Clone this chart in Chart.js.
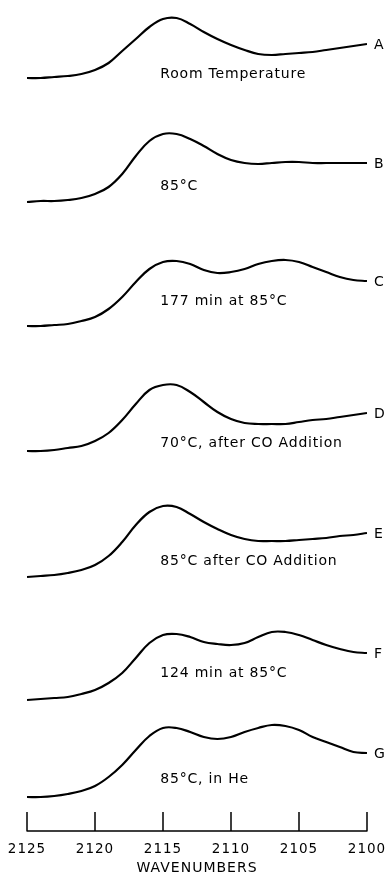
<!DOCTYPE html>
<html>
<head>
<meta charset="utf-8">
<title>CO bands</title>
<script src="https://cdn.jsdelivr.net/npm/chart.js@4/dist/chart.umd.min.js"></script>
<style>
  html, body { margin: 0; padding: 0; background: #fff; }
  #wrap { width: 388px; height: 877px; }
</style>
</head>
<body>
<div id="wrap"><canvas id="ir-chart" width="388" height="877"></canvas></div>
<script>
let wavenumbers = [2125, 2124, 2123, 2122, 2121, 2120, 2119, 2118, 2117, 2116, 2115, 2114, 2113,
    2112, 2111, 2110, 2109, 2108, 2107, 2106, 2105, 2104, 2103, 2102, 2101, 2100];

// absorbance above each trace's own baseline (arbitrary units)
let specA = [0, 0, 1, 2, 4, 8, 15, 27, 39, 51, 59, 60, 54, 46, 39, 33, 28, 24, 23, 24, 25, 26, 28, 30, 32, 34];
let specB = [0, 1, 1, 2, 4, 8, 15, 28, 46, 61, 68, 68, 63, 56, 48, 42, 39, 38, 39, 40, 40, 39, 39, 39, 39, 39];
let specC = [0, 0, 1, 2, 5, 9, 17, 29, 44, 57, 64, 65, 62, 56, 53, 54, 57, 62, 65, 66, 64, 59, 54, 49, 46, 45];
let specD = [0, 0, 1, 3, 5, 10, 18, 31, 47, 61, 66, 66, 59, 49, 39, 32, 28, 27, 27, 27, 29, 31, 32, 34, 36, 38];
let specE = [0, 1, 2, 4, 7, 12, 21, 35, 52, 65, 71, 70, 63, 55, 48, 42, 38, 36, 36, 36, 37, 38, 39, 41, 42, 44];
let specF = [0, 1, 2, 3, 6, 10, 17, 27, 42, 57, 65, 66, 63, 58, 56, 55, 57, 63, 68, 68, 65, 60, 55, 51, 48, 47];
let specG = [0, 0, 1, 3, 6, 11, 20, 32, 47, 61, 69, 69, 65, 60, 58, 60, 65, 69, 72, 71, 67, 60, 55, 50, 45, 44];

let traceLetters = ['A', 'B', 'C', 'D', 'E', 'F', 'G'];
let conditions = ['Room Temperature', '85\u00b0C', '177 min at 85\u00b0C', '70\u00b0C, after CO Addition',
    '85\u00b0C after CO Addition', '124 min at 85\u00b0C', '85\u00b0C, in He'];
let xTicks = [2125, 2120, 2115, 2110, 2105, 2100];

// stacking offset of each trace above the axis
let offsets = [753, 629, 505, 380, 254, 131, 34];

// where the condition text sits (layout only)
const noteStart = 2115.2;
const noteLift = [0, 12, 21, 4, 12, 23, 14];
const ink = '#000';
const font = '"DejaVu Sans", sans-serif';

let spectra = [specA, specB, specC, specD, specE, specF, specG];

let datasets = spectra.map((spec, k) => ({
    label: traceLetters[k],
    data: wavenumbers.map((w, i) => ({ x: w, y: spec[i] + offsets[k] })),
    borderColor: ink,
    borderWidth: 2.2,
    pointRadius: 0,
    tension: 0.4,
    fill: false
}));

const decorations = {
    id: 'decorations',
    beforeDraw(chart) {
        chart.ctx.letterSpacing = '1px';
    },
    afterDatasetsDraw(chart) {
        const ctx = chart.ctx;
        const xs = chart.scales.x;
        const ys = chart.scales.y;
        ctx.save();
        ctx.strokeStyle = ink;
        ctx.fillStyle = ink;

        // baseline with ticks pointing up
        let y0 = ys.getPixelForValue(0);
        ctx.lineWidth = 1.5;
        ctx.beginPath();
        ctx.moveTo(xs.getPixelForValue(xTicks[0]), y0);
        ctx.lineTo(xs.getPixelForValue(xTicks[xTicks.length - 1]), y0);
        xTicks.forEach(t => {
            let px = xs.getPixelForValue(t);
            ctx.moveTo(px, y0 + 0.5);
            ctx.lineTo(px, y0 - 19);
        });
        ctx.stroke();

        // condition notes
        ctx.font = '14px ' + font;
        ctx.letterSpacing = '0.8px';
        ctx.textAlign = 'left';
        ctx.textBaseline = 'alphabetic';
        conditions.forEach((txt, k) => {
            ctx.fillText(txt, xs.getPixelForValue(noteStart), ys.getPixelForValue(offsets[k] + noteLift[k]));
        });

        // trace letters at the right end
        ctx.textBaseline = 'middle';
        ctx.letterSpacing = '0px';
        spectra.forEach((spec, k) => {
            let last = spec.length - 1;
            let px = xs.getPixelForValue(wavenumbers[last]) + 7;
            let py = ys.getPixelForValue(spec[last] + offsets[k]) + 1;
            ctx.fillText(traceLetters[k], px, py);
        });
        ctx.restore();
    }
};

new Chart(document.getElementById('ir-chart'), {
    type: 'line',
    data: { datasets: datasets },
    options: {
        responsive: false,
        animation: false,
        devicePixelRatio: 1,
        layout: { padding: { left: 27, right: 21, top: 0, bottom: 0 } },
        plugins: {
            legend: { display: false },
            tooltip: { enabled: false }
        },
        scales: {
            x: {
                type: 'linear',
                min: 2100,
                max: 2125,
                reverse: true,
                grid: { display: false },
                border: { display: false },
                afterBuildTicks: s => { s.ticks = xTicks.map(v => ({ value: v })); },
                afterFit: s => { s.height = 46; },
                ticks: {
                    color: ink,
                    padding: 2,
                    maxRotation: 0,
                    callback: v => String(v),
                    font: { family: font, size: 13.5 }
                },
                title: {
                    display: true,
                    text: 'WAVENUMBERS',
                    color: ink,
                    padding: { top: 0, bottom: 0 },
                    font: { family: font, size: 14 }
                }
            },
            y: {
                display: false,
                min: 0,
                max: 831
            }
        }
    },
    plugins: [decorations]
});
</script>
</body>
</html>
